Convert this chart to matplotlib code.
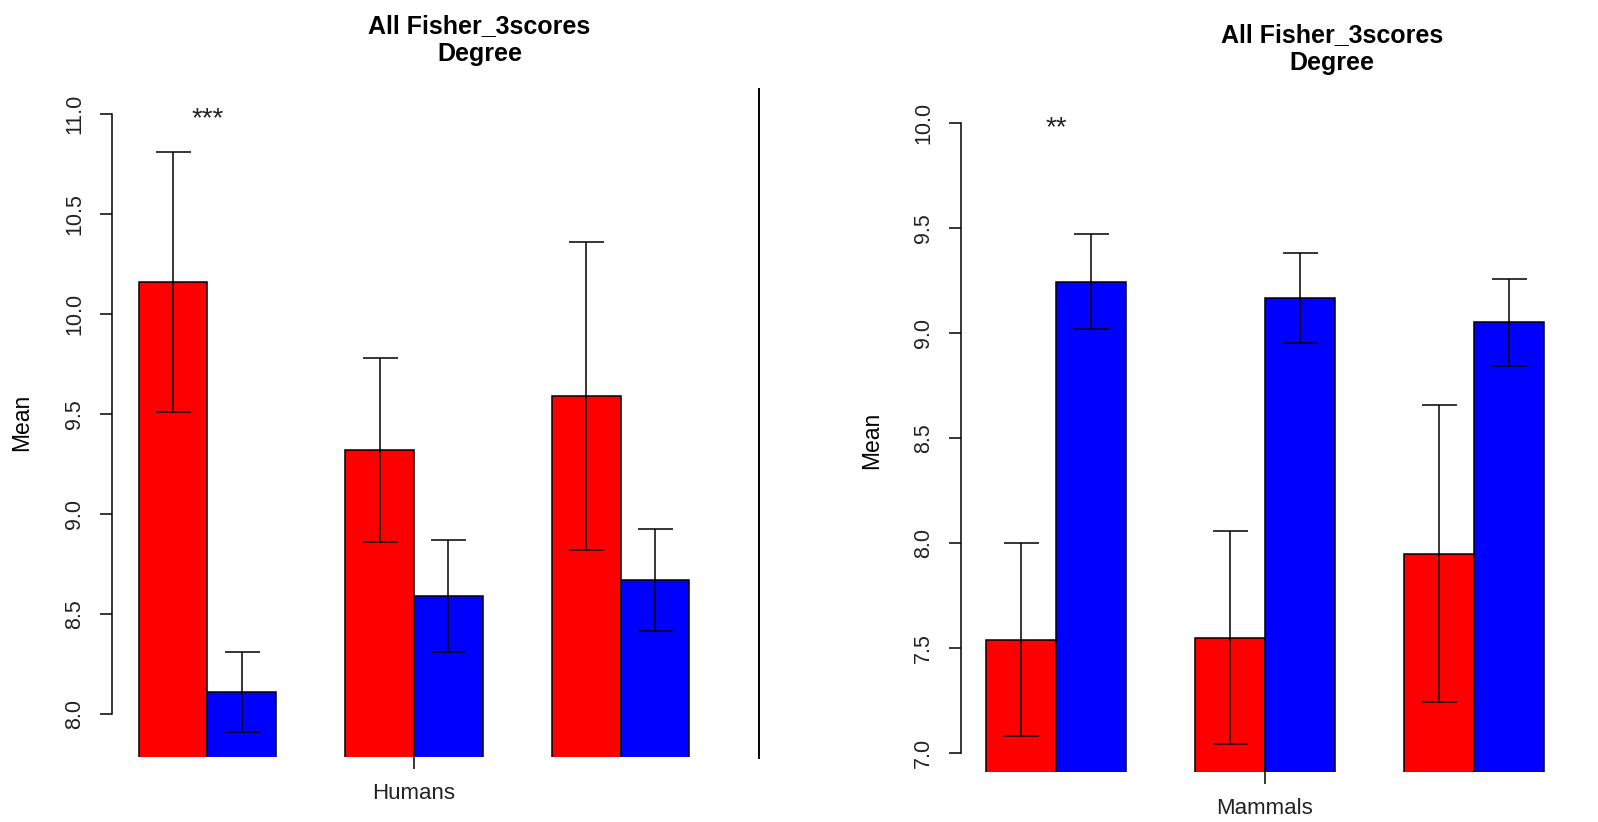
import matplotlib.pyplot as plt
from matplotlib.lines import Line2D

W, H = 1598, 822

TITLE_LINES = ["All Fisher_3scores", "Degree"]
BAR_COLORS = ["#FF0000", "#0000FF"]

# Humans: three comparisons, red vs blue group mean +/- error
human_red = [10.16, 9.32, 9.59]
human_red_err = [0.65, 0.46, 0.77]
human_blue = [8.11, 8.59, 8.67]
human_blue_err = [0.20, 0.28, 0.255]
human_ticks = [8.0, 8.5, 9.0, 9.5, 10.0, 10.5, 11.0]
human_stars = "***"

# Mammals
mammal_red = [7.54, 7.55, 7.95]
mammal_red_err = [0.46, 0.505, 0.705]
mammal_blue = [9.245, 9.167, 9.05]
mammal_blue_err = [0.225, 0.213, 0.208]
mammal_ticks = [7.0, 7.5, 8.0, 8.5, 9.0, 9.5, 10.0]
mammal_stars = "**"

SANS = ["Liberation Sans", "DejaVu Sans"]


def px_axes(fig, left, top, right, bottom):
    return fig.add_axes([left / W, 1 - bottom / H, (right - left) / W, (bottom - top) / H])


def draw_panel(ax, red, red_err, blue, blue_err, ticks, ylim, xlim, group, stars):
    # R-style beside barplot: bars of width 1, one bar gap between groups
    red_x = [1.5 + 3 * i for i in range(len(red))]
    blue_x = [x + 1 for x in red_x]

    ax.bar(red_x, red, width=1, color=BAR_COLORS[0], edgecolor="black", linewidth=1.1)
    ax.bar(blue_x, blue, width=1, color=BAR_COLORS[1], edgecolor="black", linewidth=1.1)
    for xs, ys, es in [(red_x, red, red_err), (blue_x, blue, blue_err)]:
        ax.errorbar(xs, ys, yerr=es, fmt="none", ecolor="black",
                    elinewidth=1.1, capsize=12.6, capthick=1.1, zorder=5)

    ax.set_xlim(*xlim)
    ax.set_ylim(*ylim)

    for side in ["top", "right", "bottom"]:
        ax.spines[side].set_visible(False)
    ax.spines["left"].set_bounds(ticks[0], ticks[-1])
    ax.spines["left"].set_linewidth(1.1)

    ax.set_yticks(ticks)
    ax.set_yticklabels([f"{t:.1f}" for t in ticks], rotation=90, va="center",
                       fontsize=15.5, family=SANS, color="#222222")
    ax.tick_params(axis="y", length=8.6, width=1.1, pad=10.8)

    # single tick under the middle group carries the group name
    ax.set_xticks([red_x[1] + 0.5])
    ax.set_xticklabels([group], fontsize=16, family=SANS, color="#222222")
    ax.tick_params(axis="x", length=8.6, width=1.1, pad=10)

    ax.annotate(stars, (red_x[0] + 0.5, ticks[-1]), xytext=(0, -5),
                textcoords="offset pixels", ha="center", va="center",
                fontsize=20, family=SANS, color="#222222")


def main():
    plt.rcParams["font.family"] = SANS
    fig = plt.figure(figsize=(W / 100, H / 100), dpi=100)
    fig.patch.set_facecolor("white")

    ax_h = px_axes(fig, 112, 89, 716, 757)
    draw_panel(ax_h, human_red, human_red_err, human_blue, human_blue_err,
               human_ticks, (7.785, 11.125), (0.614, 9.386), "Humans", human_stars)

    ax_m = px_axes(fig, 961, 104, 1569, 772)
    draw_panel(ax_m, mammal_red, mammal_red_err, mammal_blue, mammal_blue_err,
               mammal_ticks, (6.91, 10.09), (0.634, 9.366), "Mammals", mammal_stars)

    for x, top_base in [(479.5, 33), (1332, 42)]:
        for i, line in enumerate(TITLE_LINES):
            fig.text(x / W, 1 - (top_base + 28 * i) / H, line, ha="center",
                     va="baseline", fontsize=18, fontweight="bold", family=SANS)

    for x, y in [(22, 422), (872, 440)]:
        fig.text(x / W, 1 - y / H, "Mean", rotation=90, ha="center", va="center",
                 fontsize=16.5, family=SANS)

    fig.add_artist(Line2D([759 / W, 759 / W], [1 - 89 / H, 1 - 758 / H],
                          color="black", linewidth=1.4))

    fig.savefig("out.png", dpi=100)
    plt.close(fig)


if __name__ == "__main__":
    main()
